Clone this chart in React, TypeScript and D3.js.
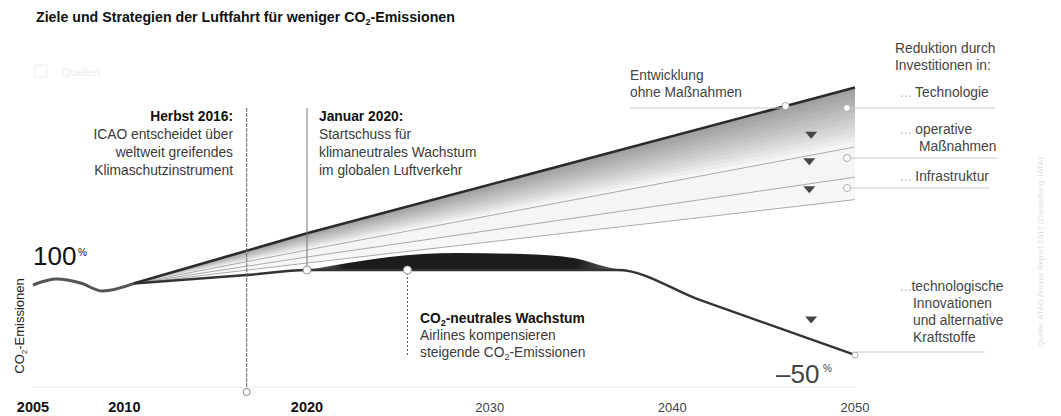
import * as d3 from "d3";

const W = 1061;
const H = 416;

// x axis ticks (past years drawn bold)
const tickYears = [2005, 2010, 2020, 2030, 2040, 2050];
const pastYears = [2005, 2010, 2020];

// index, 2005 = 100
const history: [number, number][] = [
  [2005, 100],
  [2006.3, 104.2],
  [2007.6, 101.4],
  [2008.8, 95.7],
  [2010.5, 101],
];

// fan of scenarios, all share the same years
const fanYears = [2010.5, 2020, 2050];
const noMeasures = [101, 137, 241];
const afterTechnology = [101, 125, 198.6];
const afterOperations = [101, 120, 177];
const afterInfrastructure = [101, 115.7, 161];

// lower path: growth until 2020, neutral plateau, decline to -50 %
const neutralPath: [number, number][] = [
  [2010.5, 101],
  [2016.7, 107.1],
  [2020, 110.7],
  [2037, 110.7],
  [2041.5, 89.3],
  [2050, 50],
];
const neutralLevel = 110.7;

// offset bump above the plateau
const compensated: [number, number][] = [
  [2020, 110.7],
  [2021.6, 114.3],
  [2024.5, 120],
  [2028.2, 122.9],
  [2031.8, 122.1],
  [2034.6, 119.3],
  [2036.4, 112.9],
  [2037.3, 110.7],
];

const arrows = [
  { year: 2047.6, value: 207 },
  { year: 2047.5, value: 188 },
  { year: 2047.5, value: 168 },
  { year: 2047.6, value: 75 },
];

const FONT = "'Liberation Sans', Arial, Helvetica, sans-serif";

export default function App() {
  const x = d3.scaleLinear().domain([2005, 2050]).range([33, 855]);
  const y = d3.scaleLinear().domain([0, 250]).range([425, 75]);

  const topAt = d3.scaleLinear().domain(fanYears).range(noMeasures);

  const line = d3
    .line<[number, number]>()
    .x((d) => x(d[0]))
    .y((d) => y(d[1]));
  const smooth = d3
    .line<[number, number]>()
    .x((d) => x(d[0]))
    .y((d) => y(d[1]))
    .curve(d3.curveMonotoneX);

  const pairs = (vals: number[]) =>
    fanYears.map((yr, i) => [yr, vals[i]] as [number, number]);

  const band = (top: number[], bottom: number[]) =>
    d3
      .area<number>()
      .x((_, i) => x(fanYears[i]))
      .y0((_, i) => y(bottom[i]))
      .y1((_, i) => y(top[i]))(fanYears) || "";

  // shading layers of the technology band, darker near the top line
  const layers = d3.range(1, 13).map((k) => {
    const bottom = noMeasures.map(
      (v, i) => v + ((afterTechnology[i] - v) * k) / 12
    );
    return band(noMeasures, bottom);
  });

  const bump =
    d3
      .area<[number, number]>()
      .x((d) => x(d[0]))
      .y0(y(neutralLevel))
      .y1((d) => y(d[1]))
      .curve(d3.curveMonotoneX)(compensated) || "";

  const base = y(neutralLevel);
  const x2016 = x(2016.7);
  const x2020 = x(2020);
  const xNeutral = x(2025.5);
  const topMarkX = x(2046.2);
  const topMarkY = y(topAt(2046.2));

  const txt = { fontFamily: FONT, fontSize: 13.8, fill: "#3a3a3a" };
  const side = { fontFamily: FONT, fontSize: 13.8, fill: "#444" };

  return (
    <svg
      width={W}
      height={H}
      style={{ position: "absolute", left: 0, top: 0, background: "#fff" }}
    >
      <defs>
        <linearGradient id="bumpFill" x1="0" x2="1" y1="0" y2="0">
          <stop offset="0" stopColor="#777" />
          <stop offset="0.12" stopColor="#1c1c1c" />
          <stop offset="0.85" stopColor="#1c1c1c" />
          <stop offset="1" stopColor="#666" />
        </linearGradient>
        <filter id="soft" x="-5%" y="-50%" width="110%" height="200%">
          <feGaussianBlur stdDeviation="0.6" />
        </filter>
      </defs>

      {/* title */}
      <text x={36} y={22} fontFamily={FONT} fontSize={14.2} fontWeight="bold" fill="#111">
        Ziele und Strategien der Luftfahrt für weniger CO
        <tspan fontSize={9} dy={3}>2</tspan>
        <tspan dy={-3}>-Emissionen</tspan>
      </text>
      <rect x={35} y={65} width={12} height={12} fill="none" stroke="#f0f0f0" />
      <text x={62} y={76} fontFamily={FONT} fontSize={11} fill="#ececec">
        Quellen
      </text>

      {/* faint ground line */}
      <line x1={x(2005)} x2={x(2050)} y1={387} y2={387} stroke="#ececec" />

      {/* fan bands */}
      <path d={band(afterOperations, afterInfrastructure)} fill="#000" fillOpacity={0.03} />
      <path d={band(afterTechnology, afterOperations)} fill="#000" fillOpacity={0.04} />
      {layers.map((d, i) => (
        <path key={i} d={d} fill="#000" fillOpacity={0.034} />
      ))}
      {[afterTechnology, afterOperations, afterInfrastructure].map((v, i) => (
        <path key={i} d={line(pairs(v)) || ""} fill="none" stroke="#aaa" strokeWidth={1} />
      ))}

      {/* offset bump */}
      <path d={bump} fill="url(#bumpFill)" filter="url(#soft)" />

      {/* history and neutral path */}
      <path d={smooth(history) || ""} fill="none" stroke="#555" strokeWidth={3} filter="url(#soft)" />
      <path d={smooth(neutralPath) || ""} fill="none" stroke="#333" strokeWidth={2.4} />
      <path d={line(pairs(noMeasures)) || ""} fill="none" stroke="#2a2a2a" strokeWidth={2.6} />

      {/* arrows */}
      {arrows.map((a, i) => (
        <path
          key={i}
          d="M-6,-3.5L6,-3.5L0,3.5Z"
          transform={`translate(${x(a.year)},${y(a.value)})`}
          fill="#444"
        />
      ))}

      {/* event lines */}
      <line x1={x2016} x2={x2016} y1={108} y2={389} stroke="#666" strokeDasharray="4 1" />
      <circle cx={x2016} cy={392} r={3.5} fill="#fff" stroke="#888" />
      <line x1={x2020} x2={x2020} y1={108} y2={base - 3} stroke="#777" />
      <circle cx={x2020} cy={base} r={4} fill="#fff" stroke="#999" />
      <line x1={xNeutral} x2={xNeutral} y1={base + 3} y2={356} stroke="#555" strokeDasharray="2 2" />
      <circle cx={xNeutral} cy={base} r={4} fill="#fff" stroke="#999" />

      {/* Herbst 2016 */}
      <g {...txt} textAnchor="end">
        <text x={233} y={121} fontWeight="bold" fill="#111">Herbst 2016:</text>
        <text x={233} y={139}>ICAO entscheidet über</text>
        <text x={233} y={157}>weltweit greifendes</text>
        <text x={233} y={175}>Klimaschutzinstrument</text>
      </g>

      {/* Januar 2020 */}
      <g {...txt}>
        <text x={319} y={121} fontWeight="bold" fill="#111">Januar 2020:</text>
        <text x={319} y={139}>Startschuss für</text>
        <text x={319} y={157}>klimaneutrales Wachstum</text>
        <text x={319} y={175}>im globalen Luftverkehr</text>
      </g>

      {/* CO2-neutrales Wachstum */}
      <g {...txt}>
        <text x={420} y={323} fontWeight="bold" fill="#111">
          CO<tspan fontSize={9} dy={3}>2</tspan>
          <tspan dy={-3}>-neutrales Wachstum</tspan>
        </text>
        <text x={420} y={340}>Airlines kompensieren</text>
        <text x={420} y={357}>
          steigende CO<tspan fontSize={9} dy={3}>2</tspan>
          <tspan dy={-3}>-Emissionen</tspan>
        </text>
      </g>

      {/* Entwicklung ohne Maßnahmen */}
      <line x1={630} x2={topMarkX} y1={108} y2={108} stroke="#ccc" />
      <circle cx={topMarkX} cy={topMarkY} r={3.5} fill="#fff" stroke="#aaa" />
      <g {...side}>
        <text x={630} y={80}>Entwicklung</text>
        <text x={630} y={97}>ohne Maßnahmen</text>
      </g>

      {/* right side legend */}
      <g {...side}>
        <text x={895} y={53}>Reduktion durch</text>
        <text x={895} y={70}>Investitionen in:</text>
        <text x={900} y={97}>
          <tspan fill="#bbb">...</tspan> Technologie
        </text>
        <text x={900} y={134}>
          <tspan fill="#bbb">...</tspan> operative
        </text>
        <text x={919} y={151}>Maßnahmen</text>
        <text x={900} y={181}>
          <tspan fill="#bbb">...</tspan> Infrastruktur
        </text>
        <text x={900} y={291}>
          <tspan fill="#bbb">...</tspan>technologische
        </text>
        <text x={913} y={308}>Innovationen</text>
        <text x={913} y={325}>und alternative</text>
        <text x={913} y={342}>Kraftstoffe</text>
      </g>
      {[
        { cy: 108, x2: 995 },
        { cy: 158, x2: 998 },
        { cy: 188, x2: 990 },
      ].map((l, i) => (
        <g key={i}>
          <line x1={851} x2={l.x2} y1={l.cy} y2={l.cy} stroke="#ccc" />
          <circle cx={847} cy={l.cy} r={3.5} fill="#fff" stroke="#aaa" />
        </g>
      ))}
      <line x1={856} x2={985} y1={352} y2={352} stroke="#ccc" />
      <circle cx={x(2050)} cy={y(50)} r={3} fill="#fff" stroke="#aaa" />

      {/* 100 % / -50 % */}
      <text x={33} y={265} fontFamily={FONT} fontSize={26} fill="#111">
        100
      </text>
      <text x={78} y={256} fontFamily={FONT} fontSize={10} fill="#111">
        %
      </text>
      <text x={776} y={383} fontFamily={FONT} fontSize={26} fill="#444">
        –50
      </text>
      <text x={823} y={372} fontFamily={FONT} fontSize={10} fill="#444">
        %
      </text>

      {/* y label */}
      <text
        transform="translate(24,326) rotate(-90)"
        textAnchor="middle"
        fontFamily={FONT}
        fontSize={13}
        fill="#222"
      >
        CO<tspan fontSize={8} dy={3}>2</tspan>
        <tspan dy={-3}>-Emissionen</tspan>
      </text>

      {/* x axis labels */}
      {tickYears.map((yr) => {
        const past = pastYears.includes(yr);
        return (
          <text
            key={yr}
            x={x(yr)}
            y={412}
            textAnchor="middle"
            fontFamily={FONT}
            fontSize={past ? 14.5 : 13}
            fontWeight={past ? "bold" : "normal"}
            fill={past ? "#111" : "#444"}
          >
            {yr}
          </text>
        );
      })}

      {/* source */}
      <text
        transform="translate(1043,252) rotate(-90)"
        textAnchor="middle"
        fontFamily={FONT}
        fontSize={8}
        fill="#dedede"
      >
        Quelle: ATAG Annual Report 2017 (Darstellung: IATA)
      </text>
    </svg>
  );
}
